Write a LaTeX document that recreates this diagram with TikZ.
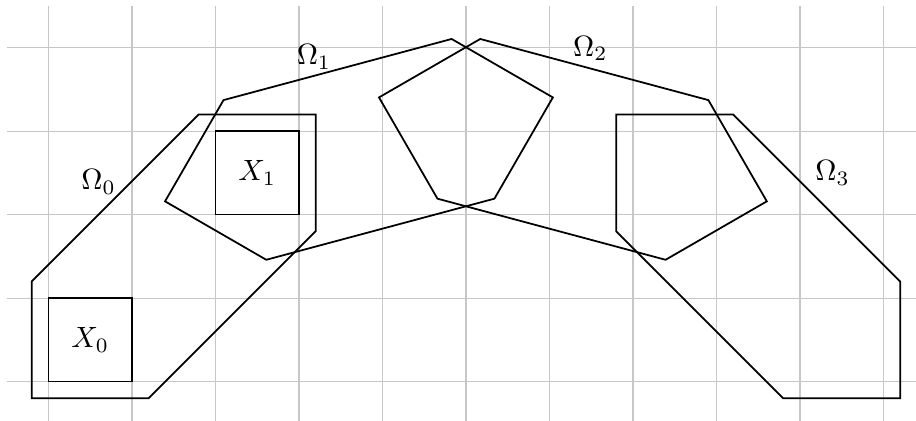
\documentclass[tikz,border=0pt]{standalone}
\begin{document}
\begin{tikzpicture}[
  region/.style={draw=black, semithick, line join=miter},
  box/.style={draw=black, semithick, minimum size=1cm, inner sep=0pt, outer sep=0pt},
  lab/.style={inner sep=0pt},
  gridline/.style={draw=black!22, line width=0.4pt}
]
\useasboundingbox (-0.58,-0.47) rectangle (10.39,4.57);
\draw[gridline] (-0.5,-0.5) grid (10.5,4.5);
% squares
\node[box] (X0) at (0.5,0.5) {$X_0$};
\node[box] (X1) at (2.5,2.5) {$X_1$};
% Omega_0
\draw[region] (-0.2,-0.2) -- (1.2,-0.2) -- (3.2,1.8) -- (3.2,3.2) -- (1.8,3.2) -- (-0.2,1.2) -- cycle;
% Omega_1 (Omega_0 rotated)
\begin{scope}[rotate around={-30:(5,-2)}]
\draw[region] (-0.2,-0.2) -- (1.2,-0.2) -- (3.2,1.8) -- (3.2,3.2) -- (1.8,3.2) -- (-0.2,1.2) -- cycle;
\end{scope}
% Omega_3 (mirror of Omega_0)
\draw[region] (10.2,-0.2) -- (8.8,-0.2) -- (6.8,1.8) -- (6.8,3.2) -- (8.2,3.2) -- (10.2,1.2) -- cycle;
% Omega_2 (Omega_3 rotated)
\begin{scope}[rotate around={30:(5,-2)}]
\draw[region] (10.2,-0.2) -- (8.8,-0.2) -- (6.8,1.8) -- (6.8,3.2) -- (8.2,3.2) -- (10.2,1.2) -- cycle;
\end{scope}
% labels
\node[lab] (L0) at (0.6,2.39) {$\Omega_0$};
\node[lab] (L1) at (3.18,3.89) {$\Omega_1$};
\node[lab] (L2) at (6.49,3.99) {$\Omega_2$};
\node[lab] (L3) at (9.39,2.50) {$\Omega_3$};
\end{tikzpicture}
\end{document}
